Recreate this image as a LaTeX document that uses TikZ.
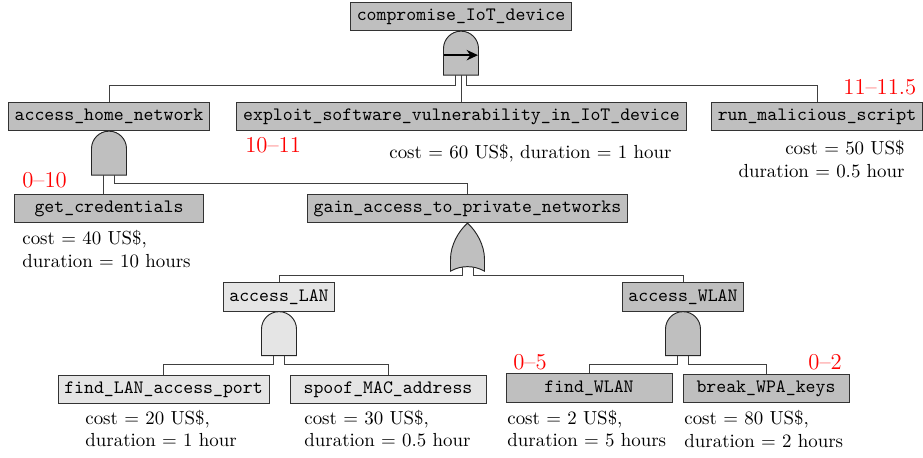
\documentclass[tikz,border=0pt]{standalone}
\usepackage{tikz}
\usetikzlibrary{arrows.meta}

\begin{document}
\begin{tikzpicture}[>=Stealth, x=0.529pt, y=-0.529pt,
	box/.style={rectangle,draw=black!80,fill=gray!50,font=\ttfamily,inner sep=3.3pt,minimum height=15pt,line width=0.5pt},
	lbox/.style={box,fill=gray!20},
	link/.style={draw=black!75,line width=0.5pt},
	timespan/.style={text=red,font=\large,inner sep=0pt,anchor=west},
	info/.style={align=left,inner sep=0pt,anchor=base west},
	pics/andgate/.style={code={
		\draw[draw=black!85,line width=0.5pt,fill=#1] (-17.5,44) -- (-17.5,17.5)
		arc[start angle=180,end angle=360,radius=17.5] -- (17.5,44) -- cycle;
		\coordinate (-l) at (-5.5,44);
		\coordinate (-m) at (0,44);
		\coordinate (-r) at (5.5,44);
		\coordinate (-w) at (-17.5,24);
		\coordinate (-e) at (17,24);
	}},
	pics/andgate/.default=gray!50,
	pics/orgate/.style={code={
		\draw[draw=black!85,line width=0.5pt,fill=#1] (0,0) .. controls (-9,8) and (-17,22) .. (-17,36)
		-- (-17,48) .. controls (-6,42) and (6,42) .. (17,48) -- (17,36)
		.. controls (17,22) and (9,8) .. (0,0) -- cycle;
		\coordinate (-l) at (-5.5,44);
		\coordinate (-r) at (5.5,44);
	}},
	pics/orgate/.default=gray!50]
	\useasboundingbox (0,0) rectangle (923,458);
	
	% Knoten
	\node[box] (top) at (461,16.5) {compromise\_IoT\_device};
	\node[box] (home) at (109,116.5) {access\_home\_network};
	\node[box] (exploit) at (461.5,116.5) {exploit\_software\_vulnerability\_in\_IoT\_device};
	\node[box] (script) at (817,116.5) {run\_malicious\_script};
	\node[box,minimum width=99.5pt] (cred) at (109,208.5) {get\_credentials};
	\node[box] (gain) at (467.5,208.5) {gain\_access\_to\_private\_networks};
	\node[lbox] (lan) at (279,297) {access\_LAN};
	\node[box] (wlan) at (683,297) {access\_WLAN};
	\node[lbox] (findlan) at (163.5,389.5) {find\_LAN\_access\_port};
	\node[lbox,minimum width=103.7pt] (spoof) at (388,389.5) {spoof\_MAC\_address};
	\node[box,minimum width=87.8pt] (findwlan) at (589,388) {find\_WLAN};
	\node[box,minimum width=87.8pt] (wpa) at (766,388.5) {break\_WPA\_keys};
	
	% Gatter
	\pic (g1) at (top.south) {andgate};
	\pic (g2) at (home.south) {andgate};
	\pic (g3) at (gain.south) {orgate};
	\pic (g4) at (lan.south) {andgate=gray!20};
	\pic (g5) at (wlan.south) {andgate};
	\draw[->,line width=1.1pt,>={Stealth[length=6pt,width=5.5pt]}] (g1-w) -- (g1-e);
	
	% Verbindungen
	\draw[link] (g1-l) -- ++(0,10) -| (home.north);
	\draw[link] (g1-m) -- (g1-m |- exploit.north);
	\draw[link] (g1-r) -- ++(0,10) -| (script.north);
	\draw[link] (g2-l) -- (g2-l |- cred.north);
	\draw[link] (g2-r) -- ++(0,8) -| (gain.north);
	\draw[link] (g3-l) -- ++(0,8) -| (lan.north);
	\draw[link] (g3-r) -- ++(0,8) -| (wlan.north);
	\draw[link] (g4-l) -- ++(0,9) -| (findlan.north);
	\draw[link] (g4-r) -- ++(0,9) -| (spoof.north);
	\draw[link] (g5-l) -- ++(0,9) -| (findwlan.north);
	\draw[link] (g5-r) -- ++(0,9) -| (wpa.north);
	
	% Kosten und Dauer (Basislinie der zweiten Zeile)
	\foreach \n/\x/\y/\t in {cred/22/267.5/{cost $=$ 40 US\$,\\duration $=$ 10 hours},
		findlan/85/446.7/{cost $=$ 20 US\$,\\duration $=$ 1 hour},
		spoof/304/446.7/{cost $=$ 30 US\$,\\duration $=$ 0.5 hour},
		findwlan/507/446.7/{cost $=$ 2 US\$,\\duration $=$ 5 hours},
		wpa/684/447.5/{cost $=$ 80 US\$,\\duration $=$ 2 hours}}{
		\node[info] (info-\n) at (\x,\y) {\t};
	}
	\node[info] (info-exploit) at (389,158) {cost $=$ 60 US\$, duration $=$ 1 hour};
	\node[info,align=right,anchor=base east] (info-script) at (905,177) {cost $=$ 50 US\$\\duration $=$ 0.5 hour};
	
	% Zeitfenster
	\foreach \x/\y/\t [count=\k] in {22/180/0--10,245/145/10--11,843/87/11--11.5,513/362/0--5,808/362/0--2}{
		\node[timespan] (span\k) at (\x,\y) {\t};
	}
\end{tikzpicture}
\end{document}
